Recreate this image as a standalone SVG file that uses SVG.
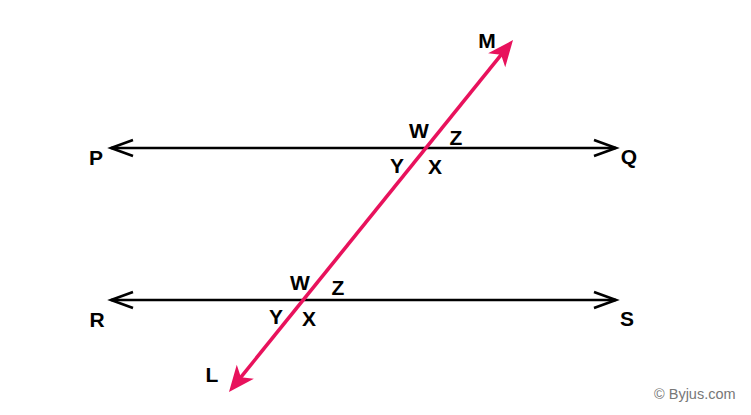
<svg xmlns="http://www.w3.org/2000/svg" width="751" height="415" viewBox="0 0 751 415">
<style>
.ln{stroke:#000;stroke-width:2.6;fill:none}
.tr{stroke:#E8125C;stroke-width:3.6;fill:none}
.lb{font-family:"Liberation Sans",Arial,sans-serif;font-weight:bold;font-size:21px;fill:#000;text-anchor:middle}
.cp{font-family:"Liberation Sans",Arial,sans-serif;font-size:14.5px;fill:#777}
</style>
<defs>
<marker id="ah" markerUnits="userSpaceOnUse" markerWidth="44" markerHeight="44" viewBox="-30 -16 44 32" refX="0" refY="0" orient="auto-start-reverse">
<path d="M11,0 L-15,-11 L-8,0 L-15,11 Z" fill="#E8125C"/>
</marker>
</defs>
<rect width="751" height="415" fill="#fff"/>
<g id="connectors">
<g id="line-PQ">
<line class="ln" x1="111" y1="148" x2="616" y2="148"/>
<polyline class="ln" points="133,140 111,148 133,156"/>
<polyline class="ln" points="594,140 616,148 594,156"/>
</g>
<g id="line-RS">
<line class="ln" x1="111" y1="300" x2="616" y2="300"/>
<polyline class="ln" points="133,292 111,300 133,308"/>
<polyline class="ln" points="594,292 616,300 594,308"/>
</g>
<g id="transversal-LM">
<line class="tr" x1="235.9" y1="383.4" x2="506.1" y2="48.6" marker-start="url(#ah)" marker-end="url(#ah)"/>
</g>
</g>
<g id="node-M"><text class="lb" x="487" y="48">M</text></g>
<g id="node-L"><text class="lb" x="212" y="382">L</text></g>
<g id="node-P"><text class="lb" x="96" y="165">P</text></g>
<g id="node-Q"><text class="lb" x="629" y="164">Q</text></g>
<g id="node-R"><text class="lb" x="97" y="327">R</text></g>
<g id="node-S"><text class="lb" x="627" y="326">S</text></g>
<g id="angles-upper">
<text class="lb" x="419" y="138">W</text>
<text class="lb" x="456" y="145">Z</text>
<text class="lb" x="397" y="173">Y</text>
<text class="lb" x="435" y="174">X</text>
</g>
<g id="angles-lower">
<text class="lb" x="300" y="290">W</text>
<text class="lb" x="338" y="295">Z</text>
<text class="lb" x="276" y="324">Y</text>
<text class="lb" x="309" y="326">X</text>
</g>
<text class="cp" x="654" y="399">© Byjus.com</text>
</svg>
